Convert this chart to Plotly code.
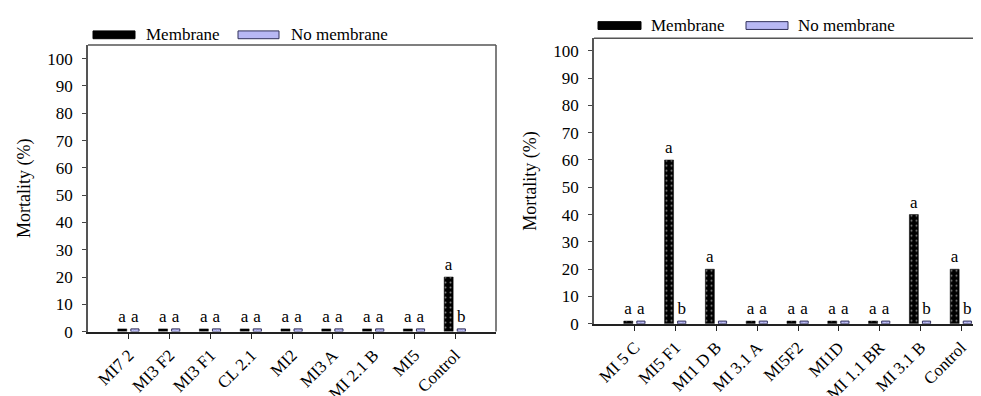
import plotly.graph_objects as go

# ---------------- data ----------------
left_categories = ["MI7 2", "MI3 F2", "MI3 F1", "CL 2.1", "MI2", "MI3 A", "MI 2.1 B", "MI5", "Control"]
left_membrane = [1, 1, 1, 1, 1, 1, 1, 1, 20]
left_no_membrane = [1, 1, 1, 1, 1, 1, 1, 1, 1]
left_membrane_letters = ["a"] * 9
left_no_membrane_letters = ["a"] * 8 + ["b"]

right_categories = ["MI 5 C", "MI5 F1", "MI1 D B", "MI 3.1 A", "MI5F2", "MI1D", "MI 1.1 BR", "MI 3.1 B", "Control"]
right_membrane = [1, 60, 20, 1, 1, 1, 1, 40, 20]
right_no_membrane = [1, 1, 1, 1, 1, 1, 1, 1, 1]
right_membrane_letters = ["a"] * 9
right_no_membrane_letters = ["a", "b", "", "a", "a", "a", "a", "b", "b"]

series_names = ["Membrane", "No membrane"]
y_ticks = [0, 10, 20, 30, 40, 50, 60, 70, 80, 90, 100]
y_title = "Mortality (%)"

# ---------------- style ----------------
FONT = "Times New Roman, Liberation Serif, DejaVu Serif, serif"
FS = 17
W, H = 981, 396


def px(xs):
    return xs / W


def py(ys):
    return 1 - ys / H


mem_marker = dict(color="black", line=dict(color="black", width=0.5),
                  pattern=dict(shape=".", fgcolor="white", bgcolor="black", size=5, solidity=0.12))
nomem_marker = dict(color="#b4b4f0", line=dict(color="#30305a", width=1),
                    pattern=dict(shape="x", fgcolor="#6060b0", bgcolor="#c0c0f8", size=3, solidity=0.3))

fig = go.Figure()


def add_panel(cats, mem, nomem, mem_txt, nomem_txt, xa, ya):
    fig.add_trace(go.Bar(x=cats, y=mem, name=series_names[0], marker=mem_marker,
                         offset=-0.27, width=0.22, text=mem_txt, textposition="outside",
                         constraintext="none", cliponaxis=False,
                         textfont=dict(family=FONT, size=FS, color="black"),
                         xaxis=xa, yaxis=ya, showlegend=False))
    fig.add_trace(go.Bar(x=cats, y=nomem, name=series_names[1], marker=nomem_marker,
                         offset=0.05, width=0.2, text=nomem_txt, textposition="outside",
                         constraintext="none", cliponaxis=False,
                         textfont=dict(family=FONT, size=FS, color="black"),
                         xaxis=xa, yaxis=ya, showlegend=False))


add_panel(left_categories, left_membrane, left_no_membrane,
          left_membrane_letters, left_no_membrane_letters, "x", "y")
add_panel(right_categories, right_membrane, right_no_membrane,
          right_membrane_letters, right_no_membrane_letters, "x2", "y2")

xcommon = dict(type="category", showgrid=False, zeroline=False, showline=True,
               linecolor="#222", linewidth=2, ticks="outside", ticklen=5, tickcolor="#222",
               tickangle=-45, tickfont=dict(family=FONT, size=FS, color="black"))
ycommon = dict(showgrid=False, zeroline=False, showline=True, linecolor="#555", linewidth=1.5,
               ticks="outside", ticklen=4, tickcolor="#444", tickvals=y_ticks,
               ticklabelstandoff=6,
               tickfont=dict(family=FONT, size=FS, color="black"),
               title=dict(text=y_title, font=dict(family=FONT, size=FS + 1, color="black"), standoff=12))

fig.update_layout(
    width=W, height=H,
    margin=dict(l=0, r=0, t=0, b=0),
    paper_bgcolor="white", plot_bgcolor="white",
    font=dict(family=FONT, size=FS, color="black"),
    barmode="overlay",
    showlegend=False,
    xaxis=dict(**xcommon, domain=[px(80), px(488)], range=[-1, 9], anchor="y",
               categoryorder="array", categoryarray=left_categories),
    yaxis=dict(**ycommon, domain=[py(332), py(38)], range=[0, 105], anchor="x"),
    xaxis2=dict(**xcommon, domain=[px(586), 1.0], range=[-1, (981 - 586) / 40.8 - 1], anchor="y2",
                categoryorder="array", categoryarray=right_categories),
    yaxis2=dict(**ycommon, domain=[py(324), py(31)], range=[0, 104.6], anchor="x2"),
)

# frames (top / right borders)
fig.add_shape(type="line", xref="paper", yref="paper", x0=px(80), x1=px(488),
              y0=py(38), y1=py(38), line=dict(color="#555", width=1.5))
fig.add_shape(type="line", xref="paper", yref="paper", x0=px(488), x1=px(488),
              y0=py(332), y1=py(38), line=dict(color="#555", width=1.5))
fig.add_shape(type="line", xref="paper", yref="paper", x0=px(586), x1=1.0,
              y0=py(31), y1=py(31), line=dict(color="#555", width=1.5))

# legends (swatches + text)
legend_specs = [
    # (swatch x0, swatch x1, center y, text x) in screen pixels
    ((85, 127, 27.5, 136), (230, 271, 27.5, 281)),
    ((590, 633, 18, 641), (738, 780, 18, 788)),
]
swatch_styles = [dict(fill="black", line="black"), dict(fill="#b8b8f4", line="#30305a")]
for panel in legend_specs:
    for (sx0, sx1, cy, tx), st, name in zip(panel, swatch_styles, series_names):
        fig.add_shape(type="rect", xref="paper", yref="paper",
                      x0=px(sx0), x1=px(sx1), y0=py(cy + 4), y1=py(cy - 4),
                      fillcolor=st["fill"], line=dict(color=st["line"], width=1))
        fig.add_annotation(x=px(tx), y=py(cy), xref="paper", yref="paper", text=name,
                           showarrow=False, xanchor="left", yanchor="middle",
                           font=dict(family=FONT, size=FS, color="black"))

fig.write_html("out.html")
